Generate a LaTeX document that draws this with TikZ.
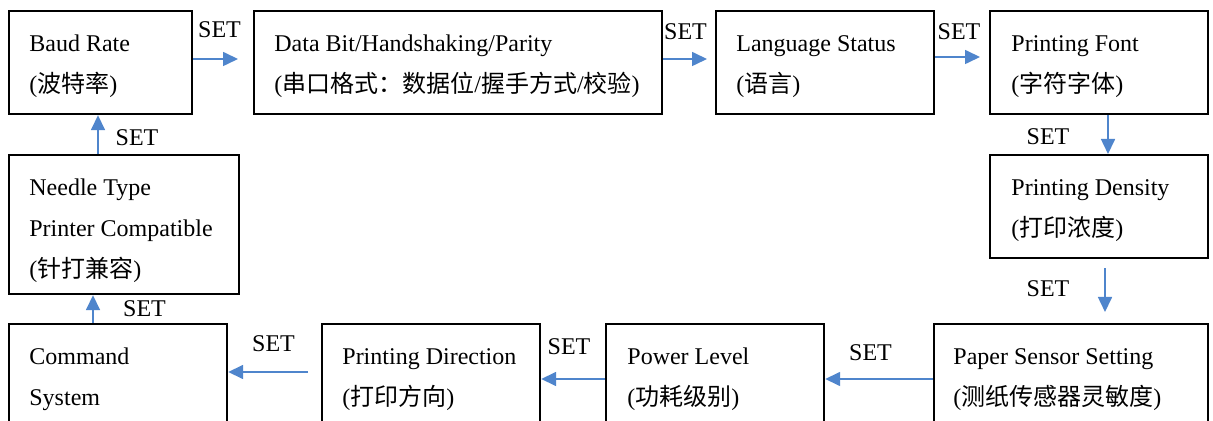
\documentclass[tikz,border=0pt]{standalone}
\usepackage{fontspec}
\setmainfont{Liberation Serif}
\newfontfamily\cjk{Noto Sans CJK SC}
\usetikzlibrary{arrows.meta}
\definecolor{arrblue}{RGB}{79,133,204}
\begin{document}
\begin{tikzpicture}[x=0.5pt,y=-0.5pt,
  box/.style={draw=black, line width=1.1pt, anchor=north west, inner sep=0pt, fill=none},
  txt/.style={anchor=north west, inner sep=0pt, align=left, font=\fontsize{12}{20.5}\selectfont},
  lbl/.style={anchor=base, inner sep=0pt, font=\fontsize{12}{14}\selectfont},
  arr/.style={draw=arrblue, line width=0.8pt, -{Triangle[length=7.5pt,width=7pt]}}]
\useasboundingbox (0,0) rectangle (1213,421);
\clip (0,0) rectangle (1213,421);
\fill[white] (0,0) rectangle (1213,421);
% boxes
\node[box, minimum width=183*0.5pt, minimum height=103*0.5pt] (baud) at (8,10) {};
\node[box, minimum width=408*0.5pt, minimum height=103*0.5pt] (data) at (253,10) {};
\node[box, minimum width=218*0.5pt, minimum height=103*0.5pt] (lang) at (715,10) {};
\node[box, minimum width=218*0.5pt, minimum height=103*0.5pt] (font) at (989,10) {};
\node[box, minimum width=218*0.5pt, minimum height=103*0.5pt] (dens) at (989,154) {};
\node[box, minimum width=274*0.5pt, minimum height=110*0.5pt] (paper) at (933,323) {};
\node[box, minimum width=218*0.5pt, minimum height=110*0.5pt] (power) at (605,323) {};
\node[box, minimum width=218*0.5pt, minimum height=110*0.5pt] (dir) at (321,323) {};
\node[box, minimum width=218*0.5pt, minimum height=110*0.5pt] (cmd) at (8,323) {};
\node[box, minimum width=230*0.5pt, minimum height=139*0.5pt] (needle) at (8,154) {};
% texts
\node[txt] (tbaud) at (29,22.3) {\strut Baud Rate\\({\cjk 波特率})};
\node[txt] (tdata) at (274,22.3) {\strut Data Bit/Handshaking/Parity\\({\cjk 串口格式：数据位}/{\cjk 握手方式}/{\cjk 校验})};
\node[txt] (tlang) at (736,22.3) {\strut Language Status\\({\cjk 语言})};
\node[txt] (tfont) at (1011,22.3) {\strut Printing Font\\({\cjk 字符字体})};
\node[txt] (tdens) at (1011,166.3) {\strut Printing Density\\({\cjk 打印浓度})};
\node[txt] (tpaper) at (953,335.3) {\strut Paper Sensor Setting\\({\cjk 测纸传感器灵敏度})};
\node[txt] (tpower) at (627,335.3) {\strut Power Level\\({\cjk 功耗级别})};
\node[txt] (tdir) at (342,335.3) {\strut Printing Direction\\({\cjk 打印方向})};
\node[txt] (tcmd) at (29,335.3) {\strut Command\\System};
\node[txt] (tneedle) at (29,166.3) {\strut Needle Type\\Printer Compatible\\({\cjk 针打兼容})};
% connectors
\draw[arr, shorten >=7.5pt] (baud.east |- 0,59) -- (data.west |- 0,59);
\draw[arr, shorten >=4pt] (data.east |- 0,59) -- (lang.west |- 0,59);
\draw[arr, shorten >=4.5pt] (lang.east |- 0,57) -- (font.west |- 0,57);
\draw[arr] (font.south -| 1108,0) -- (dens.north -| 1108,0);
\draw[arr, shorten <=4.5pt, shorten >=5.5pt] (dens.south -| 1105,0) -- (paper.north -| 1105,0);
\draw[arr] (paper.west |- 0,379) -- (power.east |- 0,379);
\draw[arr] (power.west |- 0,379) -- (dir.east |- 0,379);
\draw[arr, shorten <=6.5pt] (dir.west |- 0,372) -- (cmd.east |- 0,372);
\draw[arr] (cmd.north -| 93,0) -- (needle.south -| 93,0);
\draw[arr] (needle.north -| 98,0) -- (baud.south -| 98,0);
% labels
\node[lbl] (s1) at (219.5,38) {SET};
\node[lbl] (s2) at (685.5,40) {SET};
\node[lbl] (s3) at (959,40) {SET};
\node[lbl] (s4) at (1048,145) {SET};
\node[lbl] (s5) at (1048,297) {SET};
\node[lbl] (s6) at (870.5,361) {SET};
\node[lbl] (s7) at (569,355) {SET};
\node[lbl] (s8) at (273.5,352) {SET};
\node[lbl] (s9) at (144.5,317) {SET};
\node[lbl] (s10) at (137,146) {SET};
\end{tikzpicture}
\end{document}
